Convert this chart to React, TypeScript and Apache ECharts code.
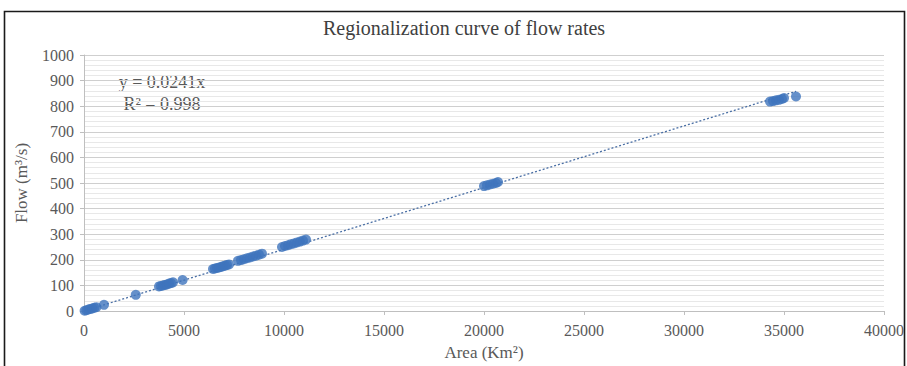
import React, { useEffect, useRef } from "react";
import * as echarts from "echarts";

const areaValues = [
  30, 120, 220, 320, 420, 520, 620, 1000,
  2590,
  3750, 3850, 3950, 4050, 4150, 4250, 4350, 4450,
  4930,
  6450, 6550, 6650, 6750, 6850, 6950, 7050, 7150, 7250,
  7700, 7850, 8000, 8150, 8300, 8450, 8600, 8750, 8900,
  9900, 10050, 10200, 10350, 10500, 10650, 10800, 10950, 11100,
  20000, 20150, 20300, 20450, 20600, 20700,
  34300, 34450, 34600, 34750, 34900, 35000,
  35600,
];
const flowValues = [
  1, 3, 6, 8, 10, 13, 15, 24,
  63,
  96, 98, 100, 102, 104, 107, 109, 112,
  121,
  164, 166, 168, 170, 172, 175, 177, 180, 182,
  196, 199, 202, 206, 209, 213, 216, 220, 224,
  250, 254, 257, 261, 264, 268, 271, 275, 279,
  488, 491, 494, 497, 500, 504,
  818, 820, 823, 825, 828, 832,
  838,
];
const slope = 0.0241;
const trendX = [0, 35600];
const xTicks = { min: 0, max: 40000, interval: 5000 };
const yTicks = { min: 0, max: 1000, interval: 100 };

const FONT = '"Liberation Serif", "Times New Roman", serif';

export default function App() {
  const ref = useRef<HTMLDivElement>(null);
  useEffect(() => {
    if (!ref.current) return;
    const chart = echarts.init(ref.current, undefined, { renderer: "svg" });
    const points = areaValues.map((x, i) => [x, flowValues[i]]);
    const trend = trendX.map((x) => [x, slope * x]);
    chart.setOption({
      animation: false,
      backgroundColor: "#ffffff",
      textStyle: { fontFamily: FONT },
      title: {
        text: "Regionalization curve of flow rates",
        left: 318,
        top: 13,
        textStyle: { fontFamily: FONT, fontSize: 20, fontWeight: "normal", color: "#404040" },
      },
      grid: { left: 84, right: 19, top: 55, bottom: 52, containLabel: false },
      xAxis: {
        type: "value",
        min: xTicks.min,
        max: xTicks.max,
        interval: xTicks.interval,
        name: "Area (Km²)",
        nameLocation: "middle",
        nameGap: 33,
        nameTextStyle: { fontFamily: FONT, fontSize: 17, color: "#595959" },
        axisLine: { show: true, lineStyle: { color: "#bfbfbf", width: 1 } },
        axisTick: { show: true, length: 4, lineStyle: { color: "#bfbfbf" } },
        axisLabel: {
          margin: 11,
          fontFamily: FONT,
          fontSize: 16,
          color: "#595959",
          formatter: (v: number) => String(v),
        },
        splitLine: { show: false },
      },
      yAxis: {
        type: "value",
        min: yTicks.min,
        max: yTicks.max,
        interval: yTicks.interval,
        name: "Flow (m³/s)",
        nameLocation: "middle",
        nameGap: 54,
        nameTextStyle: { fontFamily: FONT, fontSize: 17, color: "#595959" },
        axisLine: { show: true, lineStyle: { color: "#bfbfbf", width: 1 } },
        axisTick: { show: true, length: 4, lineStyle: { color: "#bfbfbf" } },
        axisLabel: {
          margin: 10,
          fontFamily: FONT,
          fontSize: 16,
          color: "#595959",
          formatter: (v: number) => String(v),
        },
        splitLine: { show: true, lineStyle: { color: "#cfcfcf", width: 1.2 } },
        minorTick: { show: false, splitNumber: 5 },
        minorSplitLine: { show: true, lineStyle: { color: "#e8e8e8", width: 1 } },
      },
      series: [
        {
          type: "line",
          data: trend,
          symbol: "none",
          lineStyle: { color: "#4a6fa5", width: 1.3, type: [2, 2] },
          z: 3,
        },
        {
          type: "scatter",
          data: points,
          symbol: "circle",
          symbolSize: 10,
          itemStyle: { color: "#3f74bd" },
          z: 4,
        },
      ],
      graphic: [
        {
          type: "rect",
          shape: { x: 4.5, y: 11.5, width: 900, height: 400 },
          style: { fill: "none", stroke: "#1a1a1a", lineWidth: 1.6 },
          silent: true,
        },
        {
          type: "text",
          x: 162,
          y: 71,
          style: {
            text: "y = 0.0241x\nR² = 0.998",
            fontFamily: FONT,
            fontSize: 18,
            lineHeight: 22,
            fill: "#595959",
            align: "center",
          },
        },
      ],
    });
    return () => chart.dispose();
  }, []);
  return (
    <div
      ref={ref}
      style={{ position: "fixed", left: 0, top: 0, width: 907, height: 366 }}
    />
  );
}
